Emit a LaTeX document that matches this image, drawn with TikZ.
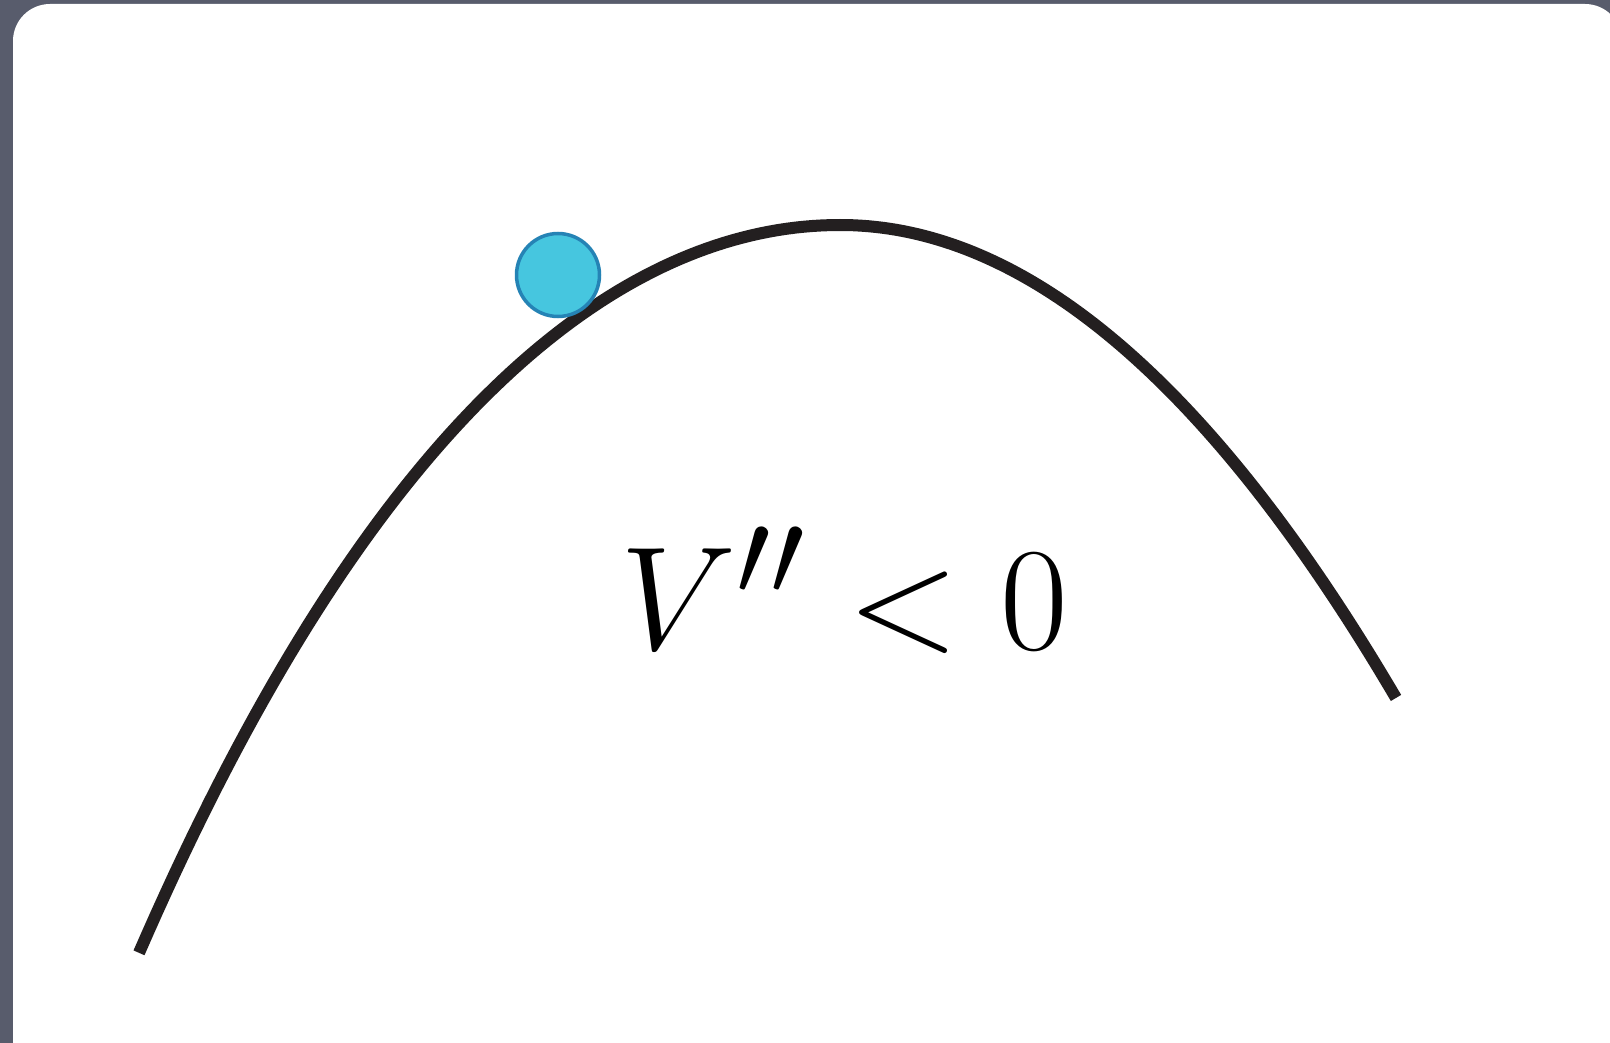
\documentclass[tikz,border=0pt]{standalone}
\usepackage{amsmath}
\usepackage{xcolor}
\usepackage{tikz}

\definecolor{slate}{HTML}{585C6C}
\definecolor{ballfill}{HTML}{46C6DF}
\definecolor{balledge}{HTML}{2583B5}
\definecolor{ink}{HTML}{231F20}

\begin{document}
\begin{tikzpicture}[
  x=1pt, y=-1pt,
  card/.style={fill=white, rounded corners=37pt},
  hill/.style={draw=ink, line width=12pt},
  ball/.style={circle, draw=balledge, fill=ballfill, line width=3.5pt,
               minimum size=83pt, inner sep=0pt},
  lbl/.style={anchor=base west, inner sep=0pt, font=\Huge, scale=5.92}
]
% frame and card
\useasboundingbox (0,0) rectangle (1610,1043);
\clip (0,0) rectangle (1610,1043);
\fill[slate] (0,0) rectangle (1610,1043);
\fill[card] (13,4) rectangle (1622,1100);

% the hill, peak at (840,225)
\draw[hill] plot[domain=139:840, samples=80]
    (\x, {225+1321*((\x-840)/1000)^2+326*((\x-840)/1000)^4})
  -- plot[domain=840:1396, samples=80]
    (\x, {225+1530*((\x-840)/1000)^2});

\node[ball] (ball) at (558,275) {};
\node[lbl] (cond) at (619,649) {$V'' < 0$};
\end{tikzpicture}
\end{document}
